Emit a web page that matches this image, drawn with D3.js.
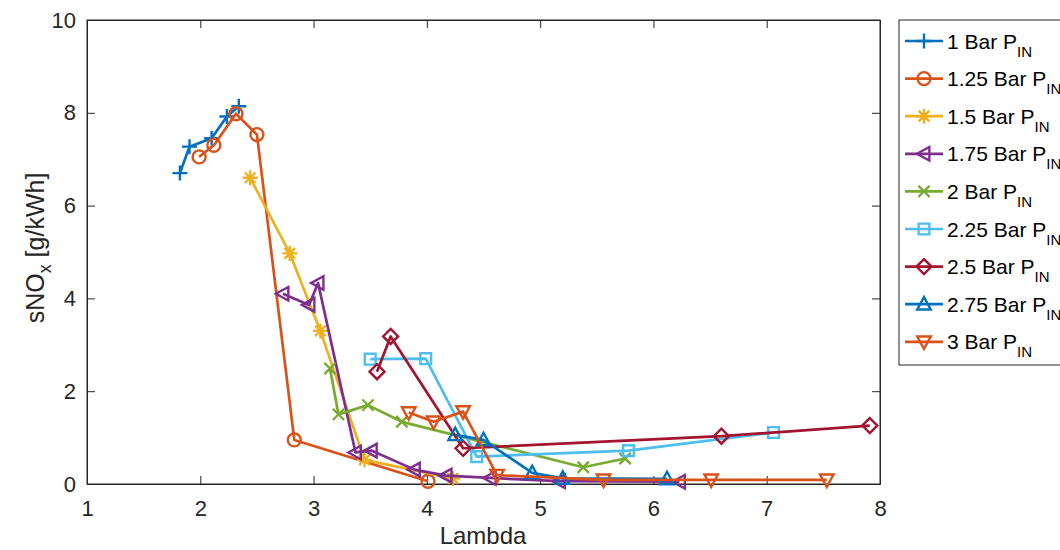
<!DOCTYPE html>
<html>
<head>
<meta charset="utf-8">
<script src="https://cdn.jsdelivr.net/npm/d3@7"></script>
<style>
  html, body { margin: 0; padding: 0; background: #fff; }
  svg { display: block; font-family: "Liberation Sans", Arial, Helvetica, sans-serif; }
</style>
</head>
<body>
<svg id="chart" width="1060" height="550"></svg>
<script>
// ---- data ----
const seriesNames = ["1 Bar", "1.25 Bar", "1.5 Bar", "1.75 Bar", "2 Bar", "2.25 Bar", "2.5 Bar", "2.75 Bar", "3 Bar"];
const seriesColors = ["#0072BD", "#D95319", "#EDB120", "#7E2F8E", "#77AC30", "#4DBEEE", "#A2142F", "#0072BD", "#D95319"];
const seriesMarkers = ["plus", "circle", "asterisk", "triangleLeft", "cross", "square", "diamond", "triangleUp", "triangleDown"];

const lambda1 = [1.82, 1.905, 2.10, 2.235, 2.34];
const nox1    = [6.70, 7.27, 7.45, 7.92, 8.14];
const lambda2 = [1.99, 2.12, 2.315, 2.50, 2.83, 4.01];
const nox2    = [7.05, 7.30, 7.98, 7.53, 0.95, 0.06];
const lambda3 = [2.44, 2.79, 3.06, 3.45, 4.23];
const nox3    = [6.60, 4.97, 3.30, 0.52, 0.12];
const lambda4 = [2.73, 2.96, 3.04, 3.37, 3.51, 3.89, 4.17, 4.56, 5.17, 6.23];
const nox4    = [4.10, 3.86, 4.33, 0.68, 0.72, 0.31, 0.18, 0.13, 0.06, 0.05];
const lambda5 = [3.145, 3.22, 3.48, 3.78, 5.38, 5.75];
const nox5    = [2.49, 1.50, 1.70, 1.34, 0.36, 0.55];
const lambda6 = [3.50, 3.99, 4.44, 5.78, 7.06];
const nox6    = [2.69, 2.70, 0.59, 0.72, 1.11];
const lambda7 = [3.56, 3.68, 4.32, 6.60, 7.91];
const nox7    = [2.42, 3.18, 0.77, 1.03, 1.26];
const lambda8 = [4.25, 4.50, 4.93, 5.20, 6.12];
const nox8    = [1.06, 0.95, 0.24, 0.12, 0.11];
const lambda9 = [3.84, 4.06, 4.32, 4.62, 5.56, 6.51, 7.53];
const nox9    = [1.54, 1.34, 1.56, 0.19, 0.09, 0.09, 0.09];

const lambdaSets = [lambda1, lambda2, lambda3, lambda4, lambda5, lambda6, lambda7, lambda8, lambda9];
const noxSets = [nox1, nox2, nox3, nox4, nox5, nox6, nox7, nox8, nox9];

const xTicks = [1, 2, 3, 4, 5, 6, 7, 8];
const yTicks = [0, 2, 4, 6, 8, 10];
const xLabel = "Lambda";

// ---- layout ----
const svg = d3.select("#chart");
const L = 87, R = 880, T = 20, B = 484;
const x = d3.scaleLinear().domain([1, 8]).range([L, R]);
const y = d3.scaleLinear().domain([0, 10]).range([B, T]);
const axisColor = "#262626";
const tickLen = 8;

// axes box
const gAx = svg.append("g");
gAx.append("rect").attr("x", L).attr("y", T).attr("width", R - L).attr("height", B - T)
  .attr("fill", "#fff").attr("stroke", axisColor).attr("stroke-width", 1);

// ticks (bottom/top, left/right, inward)
const xb = d3.axisBottom(x).tickValues(xTicks).tickSizeInner(-tickLen).tickSizeOuter(0).tickPadding(16).tickFormat(d3.format("d"));
const gx = svg.append("g").attr("transform", `translate(0,${B})`).call(xb);
const xt = d3.axisTop(x).tickValues(xTicks).tickSizeInner(-tickLen).tickSizeOuter(0).tickFormat("");
const gxt = svg.append("g").attr("transform", `translate(0,${T})`).call(xt);
const yl = d3.axisLeft(y).tickValues(yTicks).tickSizeInner(-tickLen).tickSizeOuter(0).tickPadding(11).tickFormat(d3.format("d"));
const gy = svg.append("g").attr("transform", `translate(${L},0)`).call(yl);
const yr = d3.axisRight(y).tickValues(yTicks).tickSizeInner(-tickLen).tickSizeOuter(0).tickFormat("");
const gyr = svg.append("g").attr("transform", `translate(${R},0)`).call(yr);
[gx, gxt, gy, gyr].forEach(g => {
  g.select(".domain").attr("stroke", axisColor);
  g.selectAll(".tick line").attr("stroke", axisColor);
  g.selectAll(".tick text").attr("fill", axisColor).attr("font-size", 22).attr("font-family", '"Liberation Sans", Arial, sans-serif');
});
gx.selectAll(".tick text").attr("dy", "0.72em");

// axis labels
svg.append("text").attr("x", 483).attr("y", 544).attr("text-anchor", "middle")
  .attr("font-size", 24).attr("fill", axisColor).text(xLabel);
const ylab = svg.append("text").attr("transform", `translate(44,${248}) rotate(-90)`)
  .attr("text-anchor", "middle").attr("font-size", 25).attr("fill", axisColor);
ylab.append("tspan").text("sNO");
ylab.append("tspan").attr("font-size", 18).attr("dy", 7).text("x");
ylab.append("tspan").attr("dy", -7).text(" [g/kWh]");

// marker shapes
function markerPath(type, s) {
  const t = s * 0.95;
  switch (type) {
    case "plus": return `M${-s},0H${s}M0,${-s}V${s}`;
    case "cross": { const a = s * 0.75; return `M${-a},${-a}L${a},${a}M${-a},${a}L${a},${-a}`; }
    case "asterisk": { const a = s * 0.7; return `M${-s},0H${s}M0,${-s}V${s}M${-a},${-a}L${a},${a}M${-a},${a}L${a},${-a}`; }
    case "square": { const a = s * 0.72; return `M${-a},${-a}H${a}V${a}H${-a}Z`; }
    case "diamond": return `M0,${-s}L${s},0L0,${s}L${-s},0Z`;
    case "triangleUp": return `M0,${-t}L${t * 0.95},${t * 0.75}L${-t * 0.95},${t * 0.75}Z`;
    case "triangleDown": return `M0,${t}L${t * 0.95},${-t * 0.75}L${-t * 0.95},${-t * 0.75}Z`;
    case "triangleLeft": return `M${-t},0L${t * 0.75},${-t * 0.95}L${t * 0.75},${t * 0.95}Z`;
  }
  return "";
}

const plotG = svg.append("g");
const line = d3.line().x(d => x(d[0])).y(d => y(d[1]));

seriesNames.forEach((name, i) => {
  const pts = lambdaSets[i].map((lx, j) => [lx, noxSets[i][j]]);
  const col = seriesColors[i];
  const g = plotG.append("g");
  g.append("path").datum(pts).attr("d", line).attr("fill", "none")
    .attr("stroke", col).attr("stroke-width", 2.7).attr("stroke-linejoin", "round");
  pts.forEach(p => drawMarker(g, seriesMarkers[i], x(p[0]), y(p[1]), col));
});

function drawMarker(g, type, cx, cy, col) {
  if (type === "circle") {
    g.append("circle").attr("cx", cx).attr("cy", cy).attr("r", 6.5)
      .attr("fill", "none").attr("stroke", col).attr("stroke-width", 2.4);
  } else {
    g.append("path").attr("d", markerPath(type, 7.5)).attr("transform", `translate(${cx},${cy})`)
      .attr("fill", "none").attr("stroke", col).attr("stroke-width", 2.4).attr("stroke-linejoin", "miter");
  }
}

// legend
const lg = svg.append("g");
const lgX = 899, lgY = 20, lgH = 345, step = 37.6, firstY = 41;
lg.append("rect").attr("x", lgX).attr("y", lgY).attr("width", 200).attr("height", lgH)
  .attr("fill", "#fff").attr("stroke", axisColor).attr("stroke-width", 1);
seriesNames.forEach((name, i) => {
  const yy = firstY + i * step;
  const col = seriesColors[i];
  lg.append("line").attr("x1", 905).attr("x2", 943).attr("y1", yy).attr("y2", yy)
    .attr("stroke", col).attr("stroke-width", 2.7);
  drawMarker(lg, seriesMarkers[i], 924, yy, col);
  const t = lg.append("text").attr("x", 947).attr("y", yy + 7.5).attr("font-size", 21).attr("fill", "#000");
  t.append("tspan").text(name + " P");
  t.append("tspan").attr("font-size", 15).attr("dy", 8).text("IN");
});
</script>
</body>
</html>
